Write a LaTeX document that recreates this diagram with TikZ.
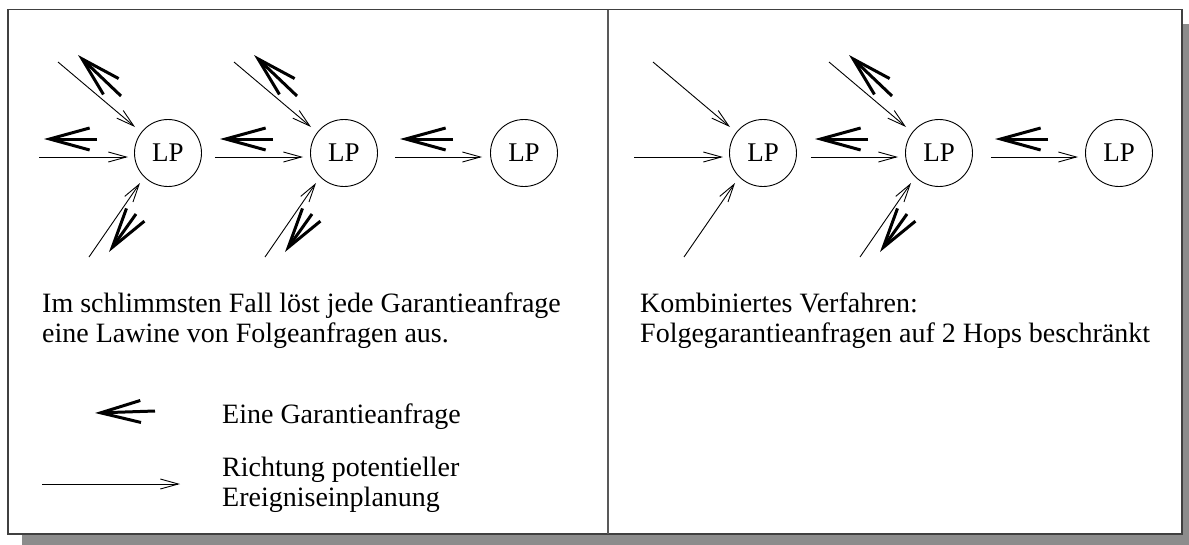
\documentclass[tikz,border=0pt]{standalone}
\usepackage{fontspec}
\setmainfont{Liberation Serif}
\usetikzlibrary{arrows.meta}
\definecolor{shadowgray}{HTML}{8C8C8C}
\tikzset{
  lp/.style={draw, circle, minimum size=67pt, inner sep=0pt, line width=0.9pt, font=\fontsize{27}{28}\selectfont},
  thinarr/.style={line width=0.9pt, -{Straight Barb[length=18pt,width=10pt,line width=0.9pt]}},
  thickarr/.style={line width=3pt, -{Straight Barb[length=40pt,width=22pt,line width=3pt]}},
  txt/.style={anchor=base west, inner sep=0pt, font=\fontsize{28}{30}\selectfont},
}
\begin{document}
\begin{tikzpicture}[x=1pt,y=-1pt]
\useasboundingbox (0,0) rectangle (1189,544);
% shadow and frame
\fill[shadowgray] (22,24) rectangle (1200,560);
\draw[fill=white, line width=1.8pt, draw=black!75] (8,9.5) rectangle (1182,534);
\draw[line width=1.8pt, draw=black!65] (608,9.5) -- (608,534);

% left panel nodes
\node[lp] (a1) at (168,153) {LP};
\node[lp] (a2) at (344,153) {LP};
\node[lp] (a3) at (524,153) {LP};
% right panel nodes
\node[lp] (b1) at (763,153) {LP};
\node[lp] (b2) at (939,153) {LP};
\node[lp] (b3) at (1119,153) {LP};

% free ends
\foreach \n in {a1,a2,b1,b2} {
  \coordinate (\n h) at ([shift={(-129,4)}]\n.center);
  \coordinate (\n u) at ([shift={(-110,-91)}]\n.center);
  \coordinate (\n d) at ([shift={(-79,104)}]\n.center);
}
% thin arrows (direction of potential event scheduling)
\draw[thinarr] (a1h) -- ([shift={(-40,4)}]a1.center);
\draw[thinarr] (a1u) -- ([shift={(-33,-26)}]a1.center);
\draw[thinarr] (a1d) -- ([shift={(-28,30)}]a1.center);
\draw[thinarr] ([shift={(13,4)}]a1.east) -- ([shift={(-7,4)}]a2.west);
\draw[thinarr] (a2u) -- ([shift={(-33,-26)}]a2.center);
\draw[thinarr] (a2d) -- ([shift={(-28,30)}]a2.center);
\draw[thinarr] ([shift={(17,4)}]a2.east) -- ([shift={(-8,4)}]a3.west);

\draw[thinarr] (b1h) -- ([shift={(-40,4)}]b1.center);
\draw[thinarr] (b1u) -- ([shift={(-33,-26)}]b1.center);
\draw[thinarr] (b1d) -- ([shift={(-28,30)}]b1.center);
\draw[thinarr] ([shift={(14,4)}]b1.east) -- ([shift={(-7,4)}]b2.west);
\draw[thinarr] (b2u) -- ([shift={(-33,-26)}]b2.center);
\draw[thinarr] (b2d) -- ([shift={(-28,30)}]b2.center);
\draw[thinarr] ([shift={(18,4)}]b2.east) -- ([shift={(-7,4)}]b3.west);

% thick arrows (guarantee requests)
\foreach \n in {a1,a2,a3,b2,b3} {
  \draw[thickarr] ([shift={(-71,-14)}]\n.center) -- ([shift={(-124,-14)}]\n.center);
}
\foreach \n in {a1,a2,b2} {
  \draw[thickarr] ([shift={(-47,-57)}]\n.center) -- ([shift={(-90,-98)}]\n.center);
  \draw[thickarr] ([shift={(-32,61)}]\n.center) -- ([shift={(-59,99)}]\n.center);
}

% texts
\node[txt] (t1) at (42,312) {Im schlimmsten Fall löst jede Garantieanfrage};
\node[txt] (t2) at (42,342) {eine Lawine von Folgeanfragen aus.};
\node[txt] (t3) at (640,312) {Kombiniertes Verfahren:};
\node[txt] (t4) at (640,342) {Folgegarantieanfragen auf 2 Hops beschränkt};

% legend
\coordinate (k1s) at (155,411);
\coordinate (k1e) at (95,413);
\draw[thickarr] (k1s) -- (k1e);
\node[txt] (l1) at (222,423) {Eine Garantieanfrage};
\coordinate (k2s) at (42,484);
\coordinate (k2e) at (180,484);
\draw[thinarr] (k2s) -- (k2e);
\node[txt] (l2) at (222,476) {Richtung potentieller};
\node[txt] (l3) at (222,506) {Ereigniseinplanung};
\end{tikzpicture}
\end{document}
